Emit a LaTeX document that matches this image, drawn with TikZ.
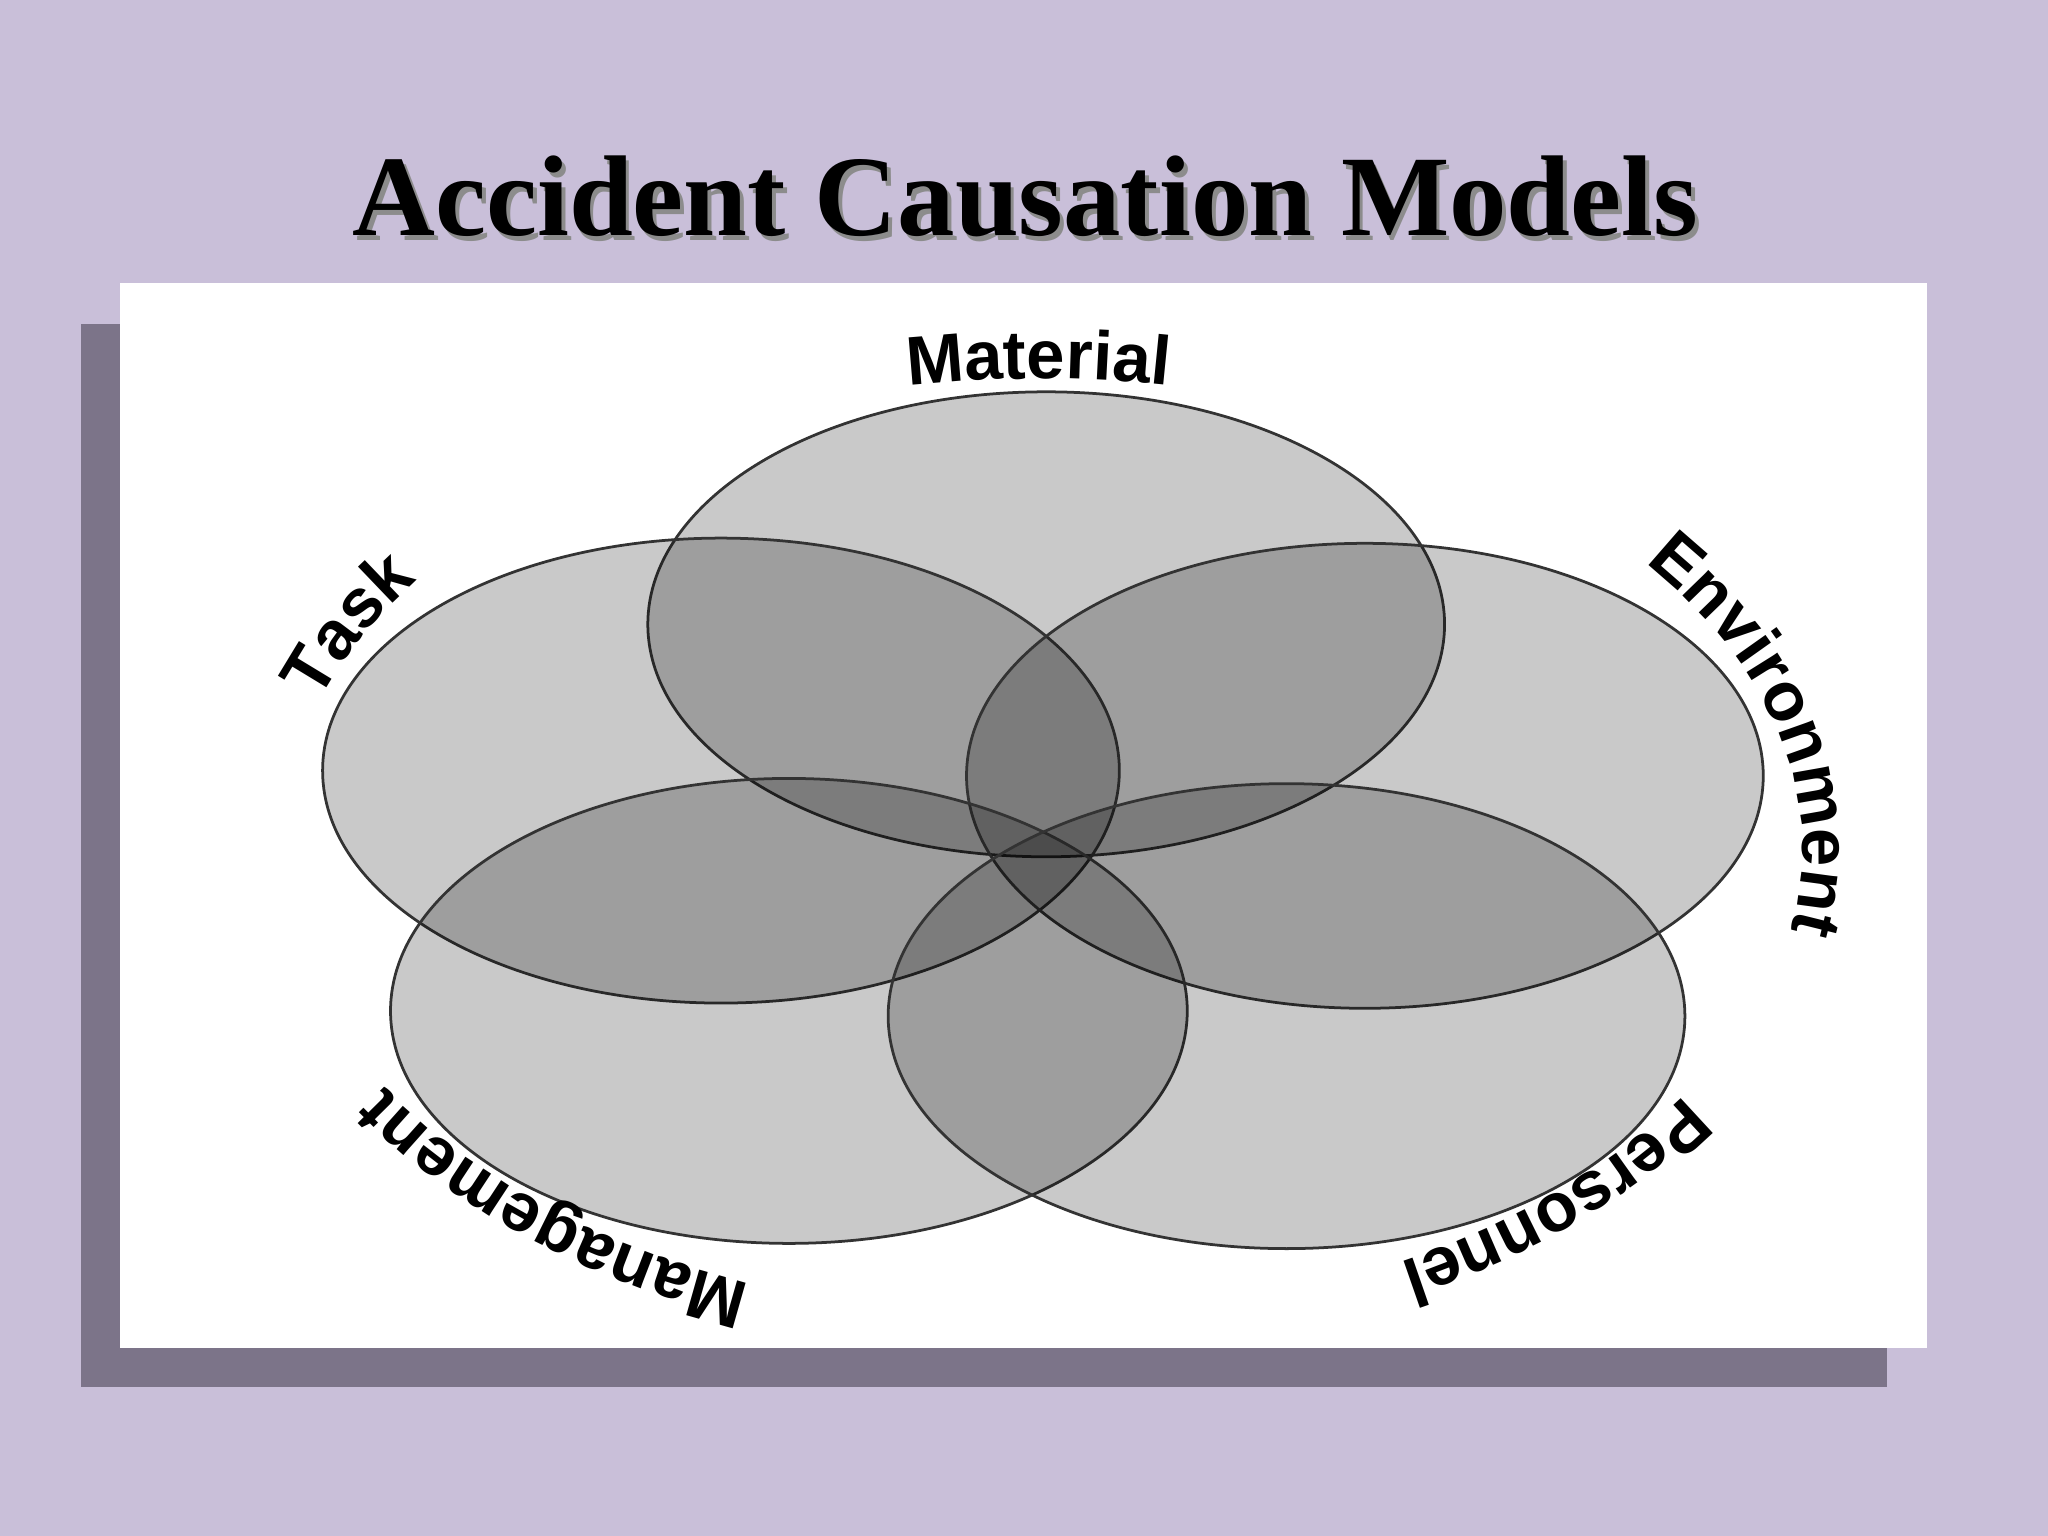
\documentclass[tikz,border=0pt]{standalone}
\usepackage{fontspec}
\setmainfont{Liberation Serif}
\newfontfamily\labfont{Liberation Sans}
\usetikzlibrary{decorations.text,calc}
\definecolor{bgc}{HTML}{C9BFD9}
\definecolor{shc}{HTML}{7C7489}
\tikzset{
  venn/.style={draw=black!80, line width=0.6pt, fill=black, fill opacity=0.21},
  curvlab/.style={decorate, decoration={text along path, text align=center,
     text={|\labfont\bfseries\fontsize{15}{18}\selectfont|#1}}}
}
\begin{document}
\begin{tikzpicture}[x=0.01cm,y=0.01cm]
\useasboundingbox (0,0) rectangle (1568,1176);
\fill[bgc] (0,0) rectangle (1568,1176);
\fill[shc] (62,114) rectangle (1445,928);
\fill[white] (92,144) rectangle (1475,959);
\node[text=black!45, font=\bfseries\fontsize{25}{30}\selectfont] (tsh) at (788,1022) {Accident Causation Models};
\node[font=\bfseries\fontsize{25}{30}\selectfont] (title) at (785,1026) {Accident Causation Models};
\path[venn] (801,698) ellipse [x radius=305, y radius=178];
\path[venn] (552,586) ellipse [x radius=305, y radius=178];
\path[venn] (1045,582) ellipse [x radius=305, y radius=178];
\path[venn] (604,402) ellipse [x radius=305, y radius=178];
\path[venn] (985,398) ellipse [x radius=305, y radius=178];
\coordinate (c) at (795,526);
\path[curvlab={Material}] ($(c)+(130:580 and 360)$) arc[start angle=130, end angle=50, x radius=580, y radius=360];
\path[curvlab={Task}] ($(c)+(198:580 and 360)$) arc[start angle=198, end angle=118, x radius=580, y radius=360];
\path[curvlab={Environment}] ($(c)+(52:585 and 360)$) arc[start angle=52, end angle=-28, x radius=585, y radius=360];
\path[curvlab={Personnel}] ($(c)+(-2:580 and 360)$) arc[start angle=-2, end angle=-82, x radius=580, y radius=360];
\path[curvlab={Management}] ($(c)+(-95:580 and 360)$) arc[start angle=-95, end angle=-175, x radius=580, y radius=360];
\end{tikzpicture}
\end{document}
